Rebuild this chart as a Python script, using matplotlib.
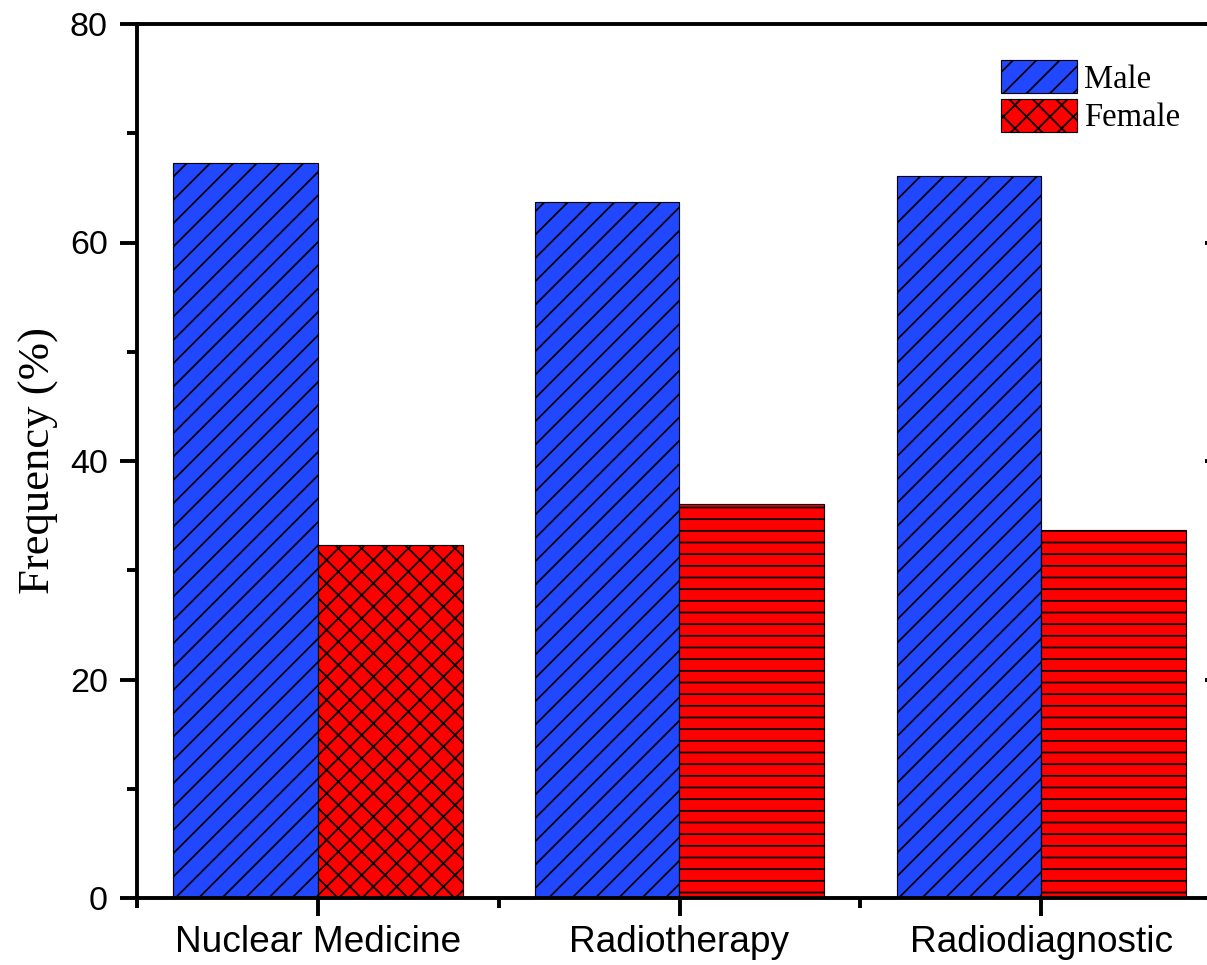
import matplotlib.pyplot as plt
import numpy as np

categories = ["Nuclear Medicine", "Radiotherapy", "Radiodiagnostic"]
male = [67.3, 63.7, 66.1]
female = [32.3, 36.1, 33.7]
female_hatches = ["xx", "--", "--"]

DPI = 140
plt.rcParams["hatch.linewidth"] = 0.9

fig = plt.figure(figsize=(1207 / DPI, 965 / DPI), dpi=DPI)
ax = fig.add_axes([137 / 1207, 1 - 898 / 965, (1222 - 137) / 1207, (898 - 24) / 965])

x = np.arange(len(categories))
w = 0.4
male_bars = ax.bar(x - w / 2, male, w, color="#2248FF", edgecolor="black",
                   linewidth=0.6, hatch="//", label="Male")
female_bars = ax.bar(x + w / 2, female, w, color="#FF0000", edgecolor="black",
                     linewidth=0.6, label="Female")
for b, h in zip(female_bars, female_hatches):
    b.set_hatch(h)

ax.set_xlim(-0.5, 2.5)
ax.set_ylim(0, 80)
ax.set_xticks(x)
ax.set_xticklabels(categories, fontsize=19, fontfamily="Liberation Sans")
ax.set_xticks([-0.5, 0.5, 1.5, 2.5], minor=True)
ax.set_yticks([0, 20, 40, 60, 80])
ax.set_yticks([10, 30, 50, 70], minor=True)
for lab in ax.get_yticklabels():
    lab.set_fontsize(17.5)
    lab.set_fontfamily("Liberation Sans")

for sp in ax.spines.values():
    sp.set_linewidth(2)
ax.tick_params(axis="both", which="major", direction="out", width=2, length=9)
ax.tick_params(axis="both", which="minor", direction="out", width=2, length=5)
ax.tick_params(axis="x", which="major", pad=5)
ax.tick_params(axis="y", which="major", pad=6)

# inward major ticks on the right side
sec = ax.secondary_yaxis("right")
sec.set_yticks([0, 20, 40, 60, 80])
sec.tick_params(direction="in", width=2, length=9, labelright=False)
sec.spines["right"].set_linewidth(2)

ax.set_ylabel("Frequency (%)", fontsize=23, fontfamily="Liberation Serif")
ax.yaxis.set_label_coords(-0.072, 0.5)

fig.legend(handles=[male_bars, female_bars], labels=["Male", "Female"],
           loc="upper left", bbox_to_anchor=(1001 / 1207, 1 - 60 / 965),
           frameon=False, borderpad=0, borderaxespad=0,
           prop={"family": "Liberation Serif", "size": 16.8},
           handlelength=2.33, handleheight=1.2, handletextpad=0.2,
           labelspacing=0.12)

fig.savefig("out.png", dpi=DPI)
